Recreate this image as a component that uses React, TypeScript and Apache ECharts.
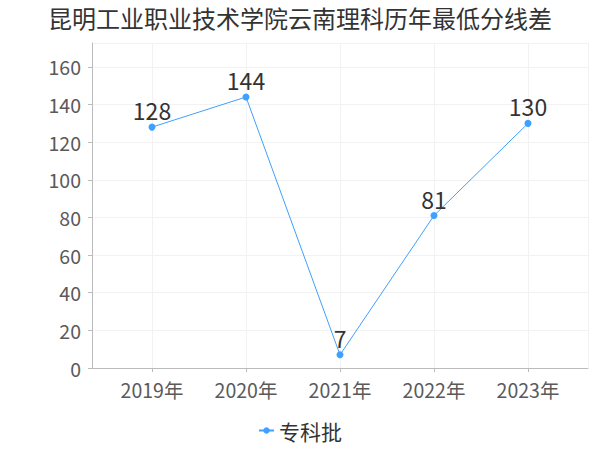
import React, { useEffect, useRef } from "react";
import * as echarts from "echarts";

const title = "昆明工业职业技术学院云南理科历年最低分线差";
const categories = ["2019年", "2020年", "2021年", "2022年", "2023年"];
const seriesName = "专科批";
const values = [128, 144, 7, 81, 130];
const yMin = 0;
const yMax = 172.7;
const yInterval = 20;

export default function App() {
  const ref = useRef<HTMLDivElement>(null);
  useEffect(() => {
    if (!ref.current) return;
    const chart = echarts.init(ref.current, null, { renderer: "svg" });
    const gridColor = "#f2f2f2";
    const axisColor = "#bbbbbb";
    const labelColor = "#5a5a5a";
    const font = "'Noto Sans CJK SC', sans-serif";
    chart.setOption({
      animation: false,
      backgroundColor: "#ffffff",
      textStyle: { fontFamily: font },
      title: {
        text: title,
        left: "center",
        top: 0,
        textStyle: { fontSize: 24, fontWeight: "normal", color: "#333333", fontFamily: font },
      },
      legend: {
        data: [seriesName],
        bottom: 4,
        left: "center",
        itemWidth: 15,
        itemHeight: 8,
        itemGap: 6,
        textStyle: { fontSize: 21, color: "#333333", fontFamily: font },
      },
      grid: [
        { left: 152, right: 72, top: 43, bottom: 82 },
        { left: 92, right: 12, top: 43, bottom: 82 },
      ],
      xAxis: [
        {
          type: "category",
          gridIndex: 0,
          data: categories,
          boundaryGap: false,
          offset: 4,
          axisLine: { show: false },
          axisTick: { show: true, length: 4, lineStyle: { color: axisColor } },
          axisLabel: { fontSize: 19.5, color: labelColor, margin: 8, fontFamily: font },
          splitLine: { show: true, lineStyle: { color: gridColor } },
        },
        {
          type: "value",
          gridIndex: 1,
          min: 0,
          max: 1,
          interval: 1,
          offset: 4,
          axisLine: { show: true, lineStyle: { color: axisColor } },
          axisTick: { show: false },
          axisLabel: { show: false },
          splitLine: { show: true, lineStyle: { color: gridColor } },
        },
      ],
      yAxis: [
        {
          type: "value",
          gridIndex: 0,
          min: yMin,
          max: yMax,
          interval: yInterval,
          show: false,
          splitLine: { show: false },
        },
        {
          type: "value",
          gridIndex: 1,
          min: yMin,
          max: yMax,
          interval: yInterval,
          offset: 3,
          axisLine: { show: true, lineStyle: { color: axisColor } },
          axisTick: { show: true, length: 4, lineStyle: { color: axisColor } },
          axisLabel: {
            fontSize: 19.5,
            color: labelColor,
            margin: 8,
            showMaxLabel: false,
            fontFamily: font,
          },
          splitLine: { show: true, lineStyle: { color: gridColor } },
        },
      ],
      series: [
        {
          name: seriesName,
          type: "line",
          xAxisIndex: 0,
          yAxisIndex: 0,
          data: values,
          symbol: "circle",
          symbolSize: 7,
          itemStyle: { color: "#3fa0ff" },
          lineStyle: { color: "#3fa0ff", width: 1 },
          label: {
            show: true,
            position: "top",
            distance: 2,
            fontSize: 23,
            color: "#333333",
            fontFamily: font,
          },
        },
      ],
    });
    return () => chart.dispose();
  }, []);
  return (
    <div
      ref={ref}
      style={{ position: "absolute", left: 0, top: 0, width: 600, height: 450 }}
    />
  );
}
